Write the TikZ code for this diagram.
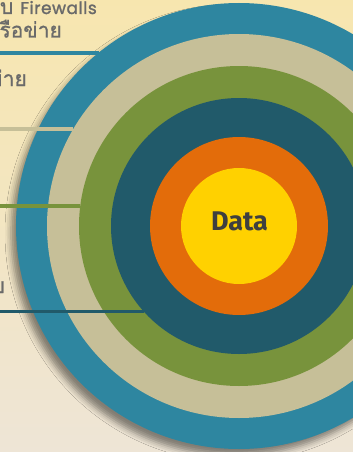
\documentclass[tikz,border=0pt]{standalone}
\usepackage{fontspec}
\setmainfont{Fira Sans}
\newfontfamily\thaifont[Script=Thai,FakeBold=1]{Loma}
\newfontfamily\latinfont[LetterSpace=3,FakeBold=1.5]{Poppins}
\usetikzlibrary{shadows.blur,positioning}
\definecolor{bgtop}{HTML}{F7E6AF}
\definecolor{bgbot}{HTML}{EEE5D6}
\definecolor{fwblue}{HTML}{2E86A0}
\definecolor{netbeige}{HTML}{C6BF98}
\definecolor{hostgreen}{HTML}{78933C}
\definecolor{appteal}{HTML}{215A6A}
\definecolor{dataorange}{HTML}{E36C0A}
\definecolor{datayellow}{HTML}{FFD100}
\definecolor{lblgray}{HTML}{6A6A6A}
\definecolor{datatext}{HTML}{3F3F3F}
\tikzset{
  ring/.style={circle, inner sep=0pt, outer sep=0pt, minimum size=#1},
  link/.style={line width=3.5pt},
  lbl/.style={anchor=base east, inner sep=0pt, text=lblgray, font=\fontsize{21}{24}\selectfont\thaifont}
}

\begin{document}
\begin{tikzpicture}[x=1pt,y=-1pt]
  \useasboundingbox (0,0) rectangle (353,452);
  \fill[top color=bgtop, bottom color=bgbot] (0,0) rectangle (353,452);

  \coordinate (C) at (239,226);
  \node[ring=446pt, fill=fwblue, blur shadow={shadow xshift=-5pt, shadow yshift=-7pt, shadow blur radius=6pt, shadow opacity=45}] (fw) at (C) {};
  \node[ring=384pt, fill=netbeige] (net) at (C) {};
  \node[ring=320pt, fill=hostgreen] (host) at (C) {};
  \node[ring=256pt, fill=appteal] (app) at (C) {};
  \node[ring=178pt, fill=dataorange] (dat) at (C) {};
  \node[ring=116pt, fill=datayellow] (core) at (C) {};
  \node[text=datatext, font=\fontsize{27}{30}\selectfont\bfseries] (coreTxt) at (239.5,221.5) {Data};

  % labels on the left
  \node[lbl] (fwTxt) at (97,14) {บ {\fontsize{17}{20}\selectfont\latinfont Firewalls}};
  \node[lbl] (fwTxt2) at (62,37.5) {รือข่าย};
  \node[lbl] (netTxt) at (27,86) {ข่าย};
  \node[lbl] (appTxt) at (5,293) {บ};

  \coordinate (fwL) at (0,53);
  \coordinate (netL) at (0,129);
  \coordinate (hostL) at (0,206);
  \coordinate (appL) at (0,311.5);
  \draw[link, fwblue] (fwL) -- (fwL -| fw.129);
  \draw[link, netbeige] (netL) -- (netL -| net.150);
  \draw[link, hostgreen] (hostL) -- (hostL -| host.173);
  \draw[link, appteal] (appL) -- (appL -| app.222);
\end{tikzpicture}
\end{document}
